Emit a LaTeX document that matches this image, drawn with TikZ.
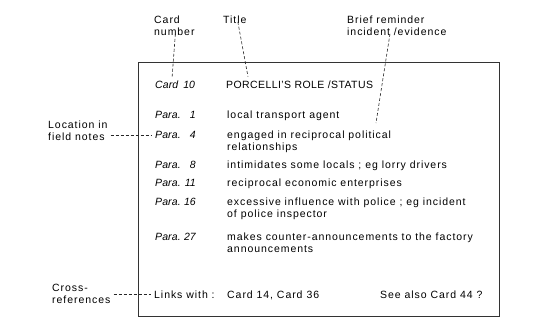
\documentclass[tikz,border=0pt]{standalone}
\usepackage{fontspec}
\setmainfont{Liberation Sans}[LetterSpace=9]
\usetikzlibrary{calc}
\tikzset{
  txt/.style={inner sep=0pt, anchor=base west, font=\fontsize{10.5}{12}\selectfont, align=left},
  itx/.style={inner sep=0pt, anchor=base west, font=\fontsize{10.5}{12}\selectfont\itshape\addfontfeatures{LetterSpace=1}},
  num/.style={inner sep=0pt, anchor=base east, font=\fontsize{10.5}{12}\selectfont\itshape\addfontfeatures{LetterSpace=1}},
  lead/.style={draw=black!85, line width=0.6pt, dash pattern=on 3pt off 2pt},
  card/.style={draw=black!80, line width=0.9pt}
}
\begin{document}
\begin{tikzpicture}[x=1pt,y=-1pt]
\useasboundingbox (0,0) rectangle (546,322);
% card outline
\node[card, inner sep=0pt, minimum width=361pt, minimum height=254pt, anchor=north west] (box) at (138,62) {};
% annotation labels (base = last line)
\node[txt] (cardnum) at (154,35.5) {Card\\number};
\node[txt] (titlelab) at (223,23.5) {Title};
\node[txt] (brief) at (347,35.5) {Brief reminder\\incident /evidence};
\node[txt] (loc) at (48,140) {Location in\\field notes};
\node[txt] (cross) at (52,303.5) {Cross-\\references};
% card contents
\node[itx] (card10) at (155,88.5) {Card\hspace{5pt}10};
\node[txt, font=\fontsize{10.5}{12}\selectfont\addfontfeatures{LetterSpace=4}] (porc) at (226,88.5) {PORCELLI'S ROLE /STATUS};
\node[itx] (p1) at (155,118.5) {Para.};
\node[num] (n1) at (196,118.5) {1};
\node[txt] (t1) at (227,118.5) {local transport agent};
\node[itx] (p4) at (155,138.5) {Para.};
\node[num] (n4) at (196,138.5) {4};
\node[txt] (t4) at (227,150.5) {engaged in reciprocal political\\relationships};
\node[itx] (p8) at (155,168.5) {Para.};
\node[num] (n8) at (196,168.5) {8};
\node[txt] (t8) at (227,168.5) {intimidates some locals ; eg lorry drivers};
\node[itx] (p11) at (155,186.5) {Para.};
\node[num] (n11) at (196,186.5) {11};
\node[txt] (t11) at (227,186.5) {reciprocal economic enterprises};
\node[itx] (p16) at (155,205.5) {Para.};
\node[num] (n16) at (196,205.5) {16};
\node[txt] (t16) at (227,217.5) {excessive influence with police ; eg incident\\of police inspector};
\node[itx] (p27) at (155,240.5) {Para.};
\node[num] (n27) at (196,240.5) {27};
\node[txt] (t27) at (227,252.5) {makes counter-announcements to the factory\\announcements};
\node[txt] (links) at (154,298.5) {Links with :};
\node[txt] (lcards) at (227,298.5) {Card 14, Card\hspace{4pt}36};
\node[txt] (seealso) at (380,298.5) {See also Card 44 ?};
% leader lines
\coordinate (briefend) at (376,123);
\draw[lead] ($(cardnum.south)+(1,-2)$) -- ($(card10.north)+(-3,-4)$);
\draw[lead] ($(titlelab.south)+(3,-2)$) -- ($(porc.north west)+(22,-4)$);
\draw[lead] ($(brief.south west)+(43,-2)$) -- (briefend);
\draw[lead] ($(loc.east |- p4.west)+(3,0)$) -- ($(p4.west)+(-3,0)$);
\draw[lead] ($(cross.east |- links.west)+(3,0)$) -- ($(links.west)+(-3,0)$);
\end{tikzpicture}
\end{document}
